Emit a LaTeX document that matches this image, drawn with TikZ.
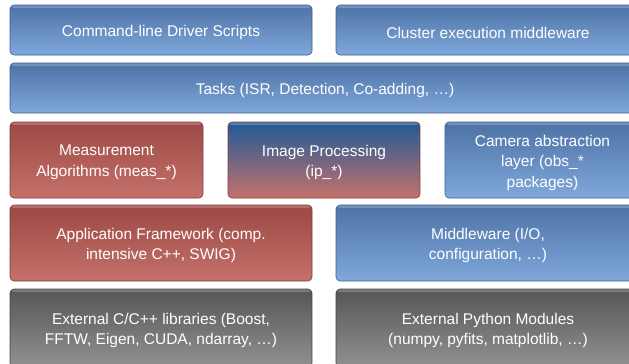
\documentclass[tikz,border=0pt]{standalone}
\usepackage{fontspec}
\setmainfont{Liberation Sans}
\definecolor{bluetop}{HTML}{4D72A6}
\definecolor{bluebot}{HTML}{80A8DB}
\definecolor{blueline}{HTML}{3E5F8C}
\definecolor{redtop}{HTML}{9C4844}
\definecolor{redbot}{HTML}{C4716B}
\definecolor{redline}{HTML}{843C38}
\definecolor{graytop}{HTML}{565656}
\definecolor{graybot}{HTML}{919191}
\definecolor{grayline}{HTML}{454545}
\definecolor{iptop}{HTML}{1F5A97}
\tikzset{
  layer/.style={rectangle, rounded corners=4pt, inner sep=0pt, line width=0.6pt,
    path picture={\fill[white,opacity=0.22] (path picture bounding box.north west) rectangle ([yshift=-3pt]path picture bounding box.north east);}},
  bluebox/.style={layer, draw=blueline, top color=bluetop, bottom color=bluebot},
  redbox/.style={layer, draw=redline, top color=redtop, bottom color=redbot},
  graybox/.style={layer, draw=grayline, top color=graytop, bottom color=graybot},
  ipbox/.style={layer, draw=redline, top color=iptop, bottom color=redbot},
  txt/.style={inner sep=0pt, text=white, align=center, font=\fontsize{15.5}{20.5}\selectfont,
    yshift=-2.5pt},
}
\newcommand{\layertext}[2]{\node[txt] (#1T) at (#1.center) {#2};}
\begin{document}
\begin{tikzpicture}[x=1pt,y=-1pt]
\useasboundingbox (0,0) rectangle (629,364);
\clip (0,0) rectangle (629,364);
\fill[white] (0,0) rectangle (629,364);
\node[bluebox, minimum width=302pt, minimum height=50pt] (cmd) at (161,30) {};
\node[bluebox, minimum width=304pt, minimum height=50pt] (cluster) at (488,30) {};
\node[bluebox, minimum width=630pt, minimum height=50pt] (tasks) at (325,88) {};
\node[redbox, minimum width=193pt, minimum height=76pt] (meas) at (106.5,160) {};
\node[ipbox, minimum width=192pt, minimum height=76pt] (ip) at (324,160) {};
\node[bluebox, minimum width=195pt, minimum height=76pt] (cam) at (542.5,160) {};
\node[redbox, minimum width=302pt, minimum height=76pt] (app) at (161,243) {};
\node[bluebox, minimum width=304pt, minimum height=76pt] (mid) at (488,243) {};
\node[graybox, minimum width=302pt, minimum height=78pt] (extc) at (161,328) {};
\node[graybox, minimum width=304pt, minimum height=78pt] (extpy) at (488,328) {};
\layertext{cmd}{Command-line Driver Scripts}
\layertext{cluster}{Cluster execution middleware}
\layertext{tasks}{Tasks (ISR, Detection, Co-adding, …)}
\layertext{meas}{Measurement\\Algorithms (meas\_*)}
\layertext{ip}{Image Processing\\(ip\_*)}
\layertext{cam}{Camera abstraction\\layer (obs\_*\\packages)}
\layertext{app}{Application Framework (comp.\\intensive C++, SWIG)}
\layertext{mid}{Middleware (I/O,\\configuration, …)}
\layertext{extc}{External C/C++ libraries (Boost,\\FFTW, Eigen, CUDA, ndarray, …)}
\layertext{extpy}{External Python Modules\\(numpy, pyfits, matplotlib, …)}
\end{tikzpicture}
\end{document}
